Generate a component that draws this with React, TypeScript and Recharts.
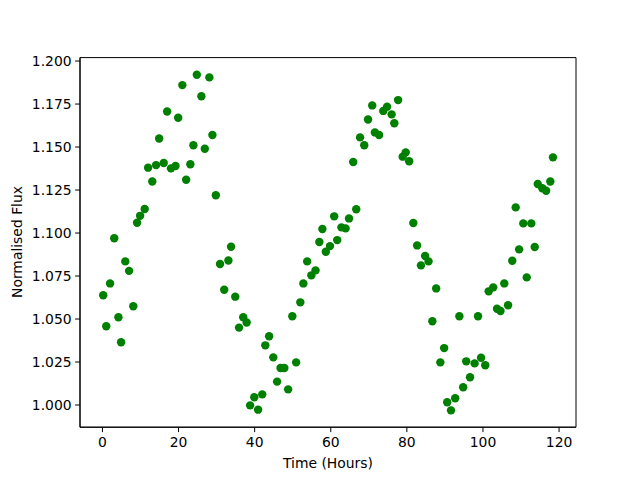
import React from 'react';
import { ScatterChart, Scatter, XAxis, YAxis, ReferenceArea } from 'recharts';

const timeHours: number[] = [
  0.2, 1.0, 2.0, 3.1, 4.2, 4.9, 6.0, 7.0, 8.1, 9.1, 9.9, 11.1, 12.0, 13.1, 14.1, 14.9, 16.1, 17.0, 18.0, 19.2,
  19.9, 21.0, 22.0, 23.1, 23.9, 24.8, 26.0, 26.9, 28.1, 28.9, 29.8, 30.9, 32.0, 33.1, 33.8, 34.9, 35.9, 37.0, 37.9, 38.8,
  39.9, 40.9, 42.0, 42.8, 43.8, 44.9, 45.9, 46.8, 47.8, 48.8, 49.9, 50.9, 52.0, 52.8, 53.8, 54.9, 56.0, 57.0, 57.8, 58.7,
  59.8, 60.9, 61.7, 62.8, 63.9, 64.8, 65.9, 66.7, 67.7, 68.8, 69.8, 70.9, 71.6, 72.7, 73.8, 74.8, 76.0, 76.7, 77.7, 78.9,
  79.7, 80.6, 81.7, 82.7, 83.7, 84.8, 85.7, 86.7, 87.7, 88.8, 89.8, 90.6, 91.6, 92.7, 93.8, 94.8, 95.6, 96.6, 97.8, 98.7,
  99.5, 100.6, 101.5, 102.7, 103.7, 104.6, 105.6, 106.6, 107.7, 108.6, 109.5, 110.6, 111.5, 112.7, 113.6, 114.4, 115.6, 116.6, 117.7, 118.4,
];

const normalisedFlux: number[] = [
  1.0638, 1.0458, 1.0707, 1.097, 1.051, 1.0365, 1.0835, 1.078, 1.0574, 1.106, 1.110, 1.114, 1.138, 1.130, 1.1395, 1.155, 1.1407, 1.1707, 1.1376, 1.139,
  1.167, 1.186, 1.131, 1.140, 1.151, 1.192, 1.1795, 1.149, 1.1905, 1.157, 1.122, 1.082, 1.067, 1.084, 1.092, 1.063, 1.045, 1.051, 1.048, 0.9998,
  1.0045, 0.9973, 1.0062, 1.0347, 1.040, 1.0277, 1.0136, 1.0215, 1.0215, 1.0091, 1.0516, 1.0248, 1.0597, 1.0707, 1.0835, 1.0754, 1.0783, 1.0948, 1.1023, 1.0891,
  1.0924, 1.1097, 1.0959, 1.1033, 1.1027, 1.1085, 1.1413, 1.1138, 1.1556, 1.151, 1.166, 1.1742, 1.1585, 1.157, 1.171, 1.1734, 1.169, 1.1638, 1.1773, 1.1444,
  1.1469, 1.1417, 1.1058, 1.0928, 1.0812, 1.0866, 1.0835, 1.0487, 1.0678, 1.0248, 1.0331, 1.0016, 0.9969, 1.0039, 1.0516, 1.0103, 1.0254, 1.0161, 1.0242, 1.0516,
  1.0275, 1.0231, 1.0661, 1.0684, 1.056, 1.0547, 1.0707, 1.058, 1.0839, 1.1149, 1.0905, 1.1056, 1.0742, 1.1056, 1.0919, 1.1285, 1.126, 1.1246, 1.130, 1.144,
];

const xTicks: number[] = [0, 20, 40, 60, 80, 100, 120];
const yTicks: number[] = [1.0, 1.025, 1.05, 1.075, 1.1, 1.125, 1.15, 1.175, 1.2];
const xDomain: [number, number] = [-5.9, 124.45];
const yDomain: [number, number] = [0.9871, 1.202];

const data = timeHours.map((t, i) => ({ t, f: normalisedFlux[i] }));

const FONT = 'DejaVu Sans';
const tickStyle = { fontSize: 13.9, fill: '#000', fontFamily: FONT };

const Dot = (props: any) => {
  const { cx, cy } = props;
  if (cx == null || cy == null) return null;
  return <circle cx={cx} cy={cy} r={4.2} fill="#008000" />;
};

const YLabel = () => (
  <text
    x={17}
    y={242}
    transform="rotate(-90 17 242)"
    textAnchor="middle"
    dominantBaseline="central"
    fontFamily={FONT}
    fontSize={13.9}
    fill="#000"
  >
    Normalised Flux
  </text>
);

export default function App() {
  return (
    <div style={{ position: 'absolute', left: 0, top: 0, width: 640, height: 480, background: '#fff', fontFamily: FONT }}>
      <ScatterChart width={640} height={480} margin={{ top: 57.6, right: 64, bottom: 0, left: 0 }}>
        <XAxis
          type="number"
          dataKey="t"
          domain={xDomain}
          ticks={xTicks}
          allowDataOverflow
          height={52.8}
          tickSize={4.9}
          tickMargin={5}
          tick={tickStyle}
          tickLine={{ stroke: '#000', strokeWidth: 1 }}
          axisLine={{ stroke: '#000', strokeWidth: 1 }}
          label={{ value: 'Time (Hours)', position: 'insideBottom', offset: 12, fill: '#000', fontSize: 13.9, fontFamily: FONT }}
        />
        <YAxis
          type="number"
          dataKey="f"
          domain={yDomain}
          ticks={yTicks}
          allowDataOverflow
          width={80}
          tickSize={4.9}
          tickMargin={3.5}
          tick={tickStyle}
          tickFormatter={(v: number) => v.toFixed(3)}
          tickLine={{ stroke: '#000', strokeWidth: 1 }}
          axisLine={{ stroke: '#000', strokeWidth: 1 }}
          label={<YLabel />}
        />
        <ReferenceArea
          x1={xDomain[0]}
          x2={xDomain[1]}
          y1={yDomain[0]}
          y2={yDomain[1]}
          fill="none"
          fillOpacity={0}
          stroke="#000"
          strokeWidth={1}
          strokeOpacity={1}
          ifOverflow="visible"
        />
        <Scatter data={data} shape={<Dot />} isAnimationActive={false} />
      </ScatterChart>
    </div>
  );
}
